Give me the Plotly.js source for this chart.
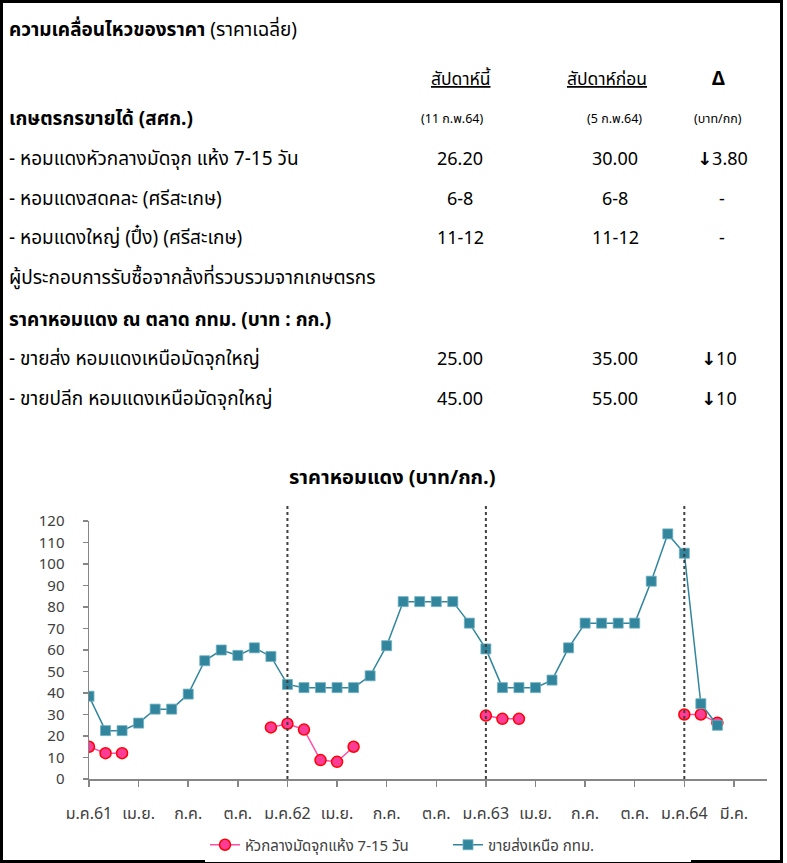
<!DOCTYPE html>
<html>
<head>
<meta charset="utf-8">
<script src="https://cdn.plot.ly/plotly-3.0.1.min.js"></script>
<style>
html,body{margin:0;padding:0;background:#fff;}
#chart{width:787px;height:863px;}
</style>
</head>
<body>
<div id="chart"></div>
<script>
// ---------- DATA ----------
const monthIndex = Array.from({length: 39}, (_, i) => i); // 0 = ม.ค.61 ... 38 = มี.ค.64
const dryOnion = [15, 12, 12, null, null, null, null, null, null, null, null,
  24, 25.7, 23, 8.8, 8, 15, null, null, null, null, null, null, null,
  29.5, 28, 28, null, null, null, null, null, null, null, null, null,
  30, 30, 26.2];
const wholesaleNorth = [38.5, 22.5, 22.5, 26, 32.5, 32.5, 39.5, 55, 60, 57.5, 61, 57,
  44, 42.5, 42.5, 42.5, 42.5, 48, 62, 82.5, 82.5, 82.5, 82.5, 72.5,
  60.5, 42.5, 42.5, 42.5, 46, 61, 72.5, 72.5, 72.5, 72.5, 92, 114,
  105, 35, 25];
const tickVals = [0, 3, 6, 9, 12, 15, 18, 21, 24, 27, 30, 33, 36, 39];
const tickText = ['ม.ค.61', 'เม.ย.', 'ก.ค.', 'ต.ค.', 'ม.ค.62', 'เม.ย.', 'ก.ค.', 'ต.ค.', 'ม.ค.63', 'เม.ย.', 'ก.ค.', 'ต.ค.', 'ม.ค.64', 'มี.ค.'];
const yearStarts = [12, 24, 36];
const seriesNames = ['หัวกลางมัดจุกแห้ง 7-15 วัน', 'ขายส่งเหนือ กทม.'];

// table content
const tableRows = [
  {label: '- หอมแดงหัวกลางมัดจุก แห้ง 7-15 วัน', now: '26.20', prev: '30.00', diff: '<b>↓</b>3.80'},
  {label: '- หอมแดงสดคละ (ศรีสะเกษ)', now: '6-8', prev: '6-8', diff: '-'},
  {label: '- หอมแดงใหญ่ (ปึ๋ง) (ศรีสะเกษ)', now: '11-12', prev: '11-12', diff: '-'},
];
const marketRows = [
  {label: '- ขายส่ง หอมแดงเหนือมัดจุกใหญ่', now: '25.00', prev: '35.00', diff: '<b>↓</b>10'},
  {label: '- ขายปลีก หอมแดงเหนือมัดจุกใหญ่', now: '45.00', prev: '55.00', diff: '<b>↓</b>10'},
];

// ---------- LAYOUT HELPERS ----------
const W = 787, H = 863;
const L = 89, R = 20, T = 521, B = 84;
const PW = W - L - R, PH = H - T - B;
const px = x => (x - L) / PW;
const py = y => (H - B - y) / PH;
const FONT = 'Tahoma, "Noto Sans Thai", "Noto Sans", "DejaVu Sans", sans-serif';

const anns = [];
function ann(text, x, y, opt) {
  opt = opt || {};
  anns.push({
    text: text, xref: 'paper', yref: 'paper', x: px(x), y: py(y),
    xanchor: opt.xanchor || 'left', yanchor: 'middle', showarrow: false,
    font: {family: FONT, size: opt.size || 19, color: opt.color || '#000'}
  });
}
const C1 = 460, C2 = 615, C3 = 720;
ann('<b>ความเคลื่อนไหวของราคา</b> (ราคาเฉลี่ย)', 7, 30);
ann('<span style="text-decoration:underline">สัปดาห์นี้</span>', C1, 79, {xanchor: 'center', size: 17.5});
ann('<span style="text-decoration:underline">สัปดาห์ก่อน</span>', 607, 79, {xanchor: 'center', size: 17.5});
ann('<b>Δ</b>', C3 - 2, 79, {xanchor: 'center', size: 19});
ann('<b>เกษตรกรขายได้ (สศก.)</b>', 7, 119);
ann('(11 ก.พ.64)', 452, 119, {xanchor: 'center', size: 12.5});
ann('(5 ก.พ.64)', 614, 119, {xanchor: 'center', size: 12.5});
ann('(บาท/กก)', C3 - 2, 119, {xanchor: 'center', size: 12.5});
tableRows.forEach((r, i) => {
  const y = 159 + i * 40;
  ann(r.label, 7, y);
  ann(r.now, C1, y, {xanchor: 'center', size: 18});
  ann(r.prev, C2, y, {xanchor: 'center', size: 18});
  ann(r.diff, C3 + 2, y, {xanchor: 'center', size: 18});
});
ann('ผู้ประกอบการรับซื้อจากล้งที่รวบรวมจากเกษตรกร', 7, 278);
ann('<b>ราคาหอมแดง ณ ตลาด กทม. (บาท : กก.)</b>', 7, 320);
marketRows.forEach((r, i) => {
  const y = 359 + i * 40;
  ann(r.label, 7, y);
  ann(r.now, C1, y, {xanchor: 'center', size: 18});
  ann(r.prev, C2, y, {xanchor: 'center', size: 18});
  ann(r.diff, C3 - 1, y, {xanchor: 'center', size: 18});
});
// chart title
ann('<b>ราคาหอมแดง (บาท/กก.)</b>', 392, 478, {xanchor: 'center', size: 20});

const shapes = yearStarts.map(m => ({
  type: 'line', xref: 'x', yref: 'paper', x0: m, x1: m, y0: 0, y1: py(503),
  line: {color: '#404040', width: 2, dash: 'dot'}
}));
// outer frame
shapes.push({
  type: 'rect', xref: 'paper', yref: 'paper',
  x0: px(1.5), x1: px(781.5), y0: py(861.5), y1: py(1.5),
  line: {color: '#000', width: 3}, fillcolor: 'rgba(0,0,0,0)'
});

const traces = [
  {
    x: monthIndex, y: dryOnion, name: seriesNames[0], type: 'scatter', mode: 'lines+markers',
    connectgaps: false,
    line: {color: '#FF4FA7', width: 1.5},
    marker: {symbol: 'circle', size: 11, color: '#FF3D96', line: {color: '#FF0000', width: 1.5}}
  },
  {
    x: monthIndex, y: wholesaleNorth, name: seriesNames[1], type: 'scatter', mode: 'lines+markers',
    line: {color: '#31859C', width: 1.5},
    marker: {symbol: 'square', size: 10, color: '#31859C', line: {color: '#6FB0C2', width: 0.8}}
  }
];

const layout = {
  width: W, height: H,
  margin: {l: L, r: R, t: T, b: B, pad: 0, autoexpand: false},
  paper_bgcolor: '#fff', plot_bgcolor: '#fff',
  font: {family: FONT, size: 14, color: '#404040'},
  showlegend: true,
  legend: {
    orientation: 'h', xref: 'container', yref: 'container', x: 448 / W, y: 1 - 845 / H,
    xanchor: 'center', yanchor: 'middle', entrywidth: 198, entrywidthmode: 'pixels',
    font: {family: FONT, size: 15, color: '#404040'}
  },
  xaxis: {
    range: [0, 41], tickmode: 'array', tickvals: tickVals, ticktext: tickText,
    showgrid: false, zeroline: false, showline: true, linecolor: '#868686', linewidth: 1.5,
    ticks: 'outside', ticklen: 6, tickcolor: '#868686', tickwidth: 1.5, ticklabelstandoff: 13,
    tickangle: 0, tickfont: {size: 16, color: '#404040'}, fixedrange: true
  },
  yaxis: {
    range: [0, 120], tickmode: 'linear', tick0: 0, dtick: 10,
    showgrid: false, zeroline: false, showline: true, linecolor: '#868686', linewidth: 1.5,
    ticks: 'outside', ticklen: 5, tickcolor: '#868686', tickwidth: 1.5, ticklabelstandoff: 15,
    tickfont: {size: 15, color: '#404040'}, fixedrange: true
  },
  annotations: anns,
  shapes: shapes
};

Plotly.newPlot('chart', traces, layout, {displayModeBar: false, staticPlot: true});
</script>
</body>
</html>
